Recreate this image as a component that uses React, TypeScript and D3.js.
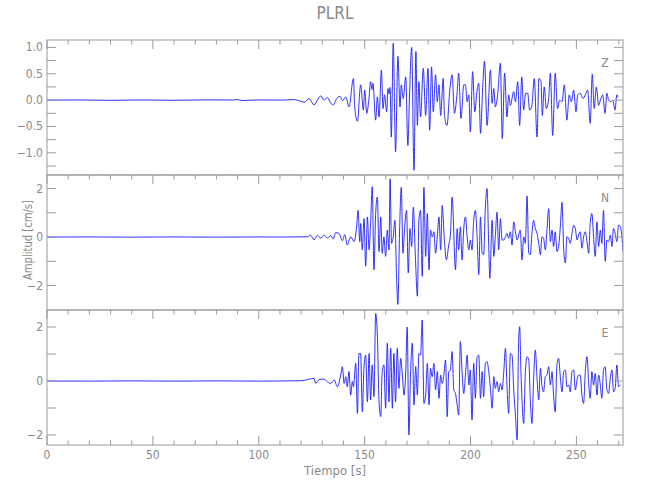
import React from "react";
import * as d3 from "d3";

// ---------- data ----------
const TITLE = "PLRL";
const X_LABEL = "Tiempo [s]";
const Y_LABEL = "Amplitud [cm/s]";
const X_DOMAIN: [number, number] = [0, 272];
const X_MAJOR = [0, 50, 100, 150, 200, 250];
const X_MINOR = [10, 20, 30, 40, 60, 70, 80, 90, 110, 120, 130, 140, 160, 170, 180, 190, 210, 220, 230, 240, 260, 270];

const Z_DOMAIN: [number, number] = [-1.42, 1.14];
const N_DOMAIN: [number, number] = [-3.01, 2.56];
const E_DOMAIN: [number, number] = [-2.37, 2.63];
const Z_TICKS_MAJOR = [1.0, 0.5, 0.0, -0.5, -1.0];
const Z_TICKS_MINOR = [0.75, 0.25, -0.25, -0.75, -1.25];
const NE_TICKS_MAJOR = [2, 0, -2];
const NE_TICKS_MINOR = [1, -1];

// [time (s), amplitude (cm/s)]
const Z_TRACE: [number, number][] = [
  [0, 0], [15, 0.003], [30, -0.004], [45, 0.003], [60, -0.003], [75, 0.004], [88, 0.003], [90, 0.012], [92, -0.008], [100, 0.004], [110.4, 0],
  [116.7, 0.01], [119.8, -0.02], [121.4, -0.04], [123.8, 0.03], [126.1, -0.09], [128.0, 0.02], [129.3, 0.08], [130.8, 0.0], [132.4, 0.05],
  [134.0, -0.06], [135.2, -0.09], [136.8, 0.03], [138.4, 0.07], [139.6, -0.01], [141.1, 0.06], [142.6, -0.13], [144.7, 0.41], [145.3, -0.13],
  [146.6, -0.4], [148.1, 0.29], [149.4, -0.19], [150.0, 0.19], [151.0, -0.25], [152.1, 0.06], [152.8, 0.35], [153.5, 0.2], [153.9, 0.32],
  [155.2, -0.38], [156.0, 0.06], [156.8, -0.32], [157.9, 0.57], [158.7, -0.16], [159.4, 0.1], [160.4, -0.22], [161.0, 0.22], [161.5, 0.12],
  [162.0, 0.24], [162.6, -0.7], [163.5, 1.08], [164.6, -0.98], [165.7, 0.83], [166.7, -0.13], [167.3, 0.29], [168.2, 0.03], [169.4, 0.44],
  [170.4, -0.86], [171.2, 0.1], [172.2, 1.0], [173.3, -1.33], [174.2, 0.92], [174.9, -0.48], [175.6, 0.35], [176.4, -0.32], [177.7, 0.6],
  [178.8, -0.29], [179.9, 0.6], [180.7, -0.57], [181.6, 0.63], [182.4, -0.22], [183.5, 0.48], [184.3, -0.03], [185.1, 0.29], [185.9, -0.29],
  [187.1, 0.41], [187.7, -0.29], [188.9, -0.48], [190.2, 0.19], [191.3, 0.48], [192.4, -0.25], [193.7, 0.16], [194.4, 0.51], [195.5, -0.35],
  [196.8, 0.29], [197.6, 0.29], [198.4, -0.03], [199.2, 0.1], [199.9, -0.6], [201.0, 0.54], [202.0, -0.22], [203.1, 0.19], [203.9, 0.32],
  [204.7, -0.63], [205.8, 0.29], [206.6, 0.74], [207.8, -0.48], [209.4, 0.57], [210.2, -0.06], [211.0, 0.22], [211.7, -0.13], [212.8, 0.1],
  [214.1, 0.7], [215.0, -0.73], [216.1, 0.51], [217.2, -0.32], [218.0, 0.1], [218.8, -0.1], [220.4, 0.16], [221.2, -0.03], [222.3, 0.35],
  [223.2, -0.48], [224.2, 0.44], [225.1, -0.19], [226.0, 0.13], [227.0, 0.13], [227.9, -0.19], [229.0, -0.1], [230.1, 0.41], [231.4, -0.7],
  [232.3, 0.41], [233.3, 0.35], [233.9, -0.29], [234.8, 0.25], [235.8, -0.16], [236.9, 0.03], [237.7, 0.51], [238.8, -0.67], [240.0, 0.51],
  [241.1, -0.16], [242.1, 0.0], [243.2, -0.03], [244.3, 0.29], [245.5, -0.38], [246.6, 0.1], [247.6, -0.03], [248.7, 0.19], [249.8, -0.22],
  [250.6, 0.1], [251.8, 0.13], [253.1, 0.03], [254.2, 0.1], [255.3, 0.19], [256.5, -0.44], [257.5, 0.49], [258.4, -0.16], [259.4, 0.25],
  [260.5, -0.1], [261.3, 0.0], [262.4, 0.1], [263.5, -0.25], [264.4, 0.13], [265.2, 0.0], [266.3, -0.03], [267.2, 0.0], [268.2, -0.19],
  [269.1, 0.1], [269.6, 0.05],
];

const N_TRACE: [number, number][] = [
  [0, 0], [20, 0.004], [40, -0.004], [60, 0.004], [80, -0.004], [100, 0.004], [110.4, 0], [123.0, 0.01],
  [124.5, 0.08], [126.1, -0.12], [127.7, 0.07], [129.3, -0.05], [130.8, 0.08], [132.4, -0.04], [134.0, 0.06], [135.2, -0.08], [136.3, 0.18],
  [137.9, 0.15], [139.5, -0.15], [140.6, 0.1], [141.8, -0.33], [143.4, 0.01], [145.0, -0.19], [146.2, 0.42], [146.9, 1.1], [147.7, -0.19],
  [148.1, 0.56], [148.9, -0.53], [149.7, 0.76], [150.5, -1.2], [151.3, 0.83], [152.1, -0.53], [152.8, 0.56], [153.6, 2.08], [154.4, -1.35],
  [155.2, 0.97], [156.0, 1.65], [156.8, -0.6], [157.6, 0.83], [158.3, -0.67], [159.1, 0.01], [159.9, -0.8], [160.7, 0.29], [161.5, -0.53],
  [162.0, 2.4], [162.7, -0.26], [163.5, 0.01], [164.3, 0.69], [165.1, -1.75], [165.7, -2.78], [166.5, 0.29], [167.3, 2.05], [168.1, -0.67],
  [168.9, 0.42], [169.8, 1.1], [170.6, -1.48], [171.4, 0.35], [172.2, -0.39], [173.0, 1.24], [173.9, -0.67], [174.9, -2.44], [175.6, 0.69],
  [176.4, 1.1], [177.2, -1.62], [178.0, 2.05], [178.8, -0.8], [179.6, 0.97], [180.4, -1.35], [181.1, 0.29], [181.9, 0.01], [182.7, 0.22],
  [183.5, -0.67], [184.3, 0.01], [185.1, 0.83], [185.9, -0.53], [186.6, 1.3], [187.7, -0.19], [188.6, -0.94], [189.7, -0.33], [190.5, 0.08],
  [191.3, 1.65], [192.9, -1.35], [193.7, 0.35], [194.4, -0.53], [195.2, 0.42], [196.0, -0.94], [196.8, 0.35], [197.6, 0.83], [198.4, 0.01],
  [199.2, -0.53], [199.9, -0.12], [200.7, -0.53], [201.5, 0.69], [202.3, 1.1], [203.1, 0.01], [203.9, -1.55], [204.7, 0.83], [205.5, -0.67],
  [206.2, -0.73], [207.0, 1.24], [207.8, 2.0], [208.6, -0.39], [209.1, -1.7], [210.2, 0.69], [211.0, -0.8], [211.7, 0.01], [212.5, 1.03],
  [213.3, -0.53], [214.1, 0.76], [214.9, -0.12], [215.7, -0.12], [216.5, 0.01], [217.2, 0.15], [218.0, -0.05], [218.8, 0.22], [219.6, -0.33],
  [220.4, 0.63], [221.2, 0.22], [222.0, -0.12], [223.5, 0.29], [224.3, -0.94], [225.1, 0.01], [225.9, -0.26], [226.7, 1.7], [227.5, -0.67],
  [228.2, -0.73], [229.0, 0.15], [229.8, 0.69], [230.6, 0.35], [231.4, 0.15], [232.2, -0.26], [233.0, -0.73], [233.7, 0.01], [234.5, -0.05],
  [235.3, -0.53], [236.1, 0.29], [236.9, 1.17], [237.7, -0.19], [238.5, 0.29], [239.2, -0.39], [240.0, 0.22], [240.8, -0.6], [241.6, -0.39],
  [242.4, 0.42], [243.2, 1.44], [244.0, -0.53], [244.8, -1.07], [245.5, 0.01], [246.3, -0.05], [247.1, -0.26], [247.9, 0.15], [248.7, 0.49],
  [249.5, 0.35], [250.3, -0.12], [251.0, 0.08], [251.8, 0.22], [252.6, -0.46], [253.4, 0.01], [254.2, 0.22], [255.0, -0.19], [255.8, -0.67],
  [256.5, 0.56], [257.3, 0.97], [258.1, 0.01], [258.9, -0.8], [259.7, 0.63], [260.5, -0.39], [261.3, 0.29], [262.0, -0.26], [262.8, 1.1],
  [263.6, -1.0], [264.4, -0.12], [265.2, -0.19], [266.0, 0.08], [266.8, -0.39], [267.5, 0.35], [268.3, 0.15], [269.1, -0.19], [269.9, 0.49],
  [270.7, 0.42], [271.5, 0.01], [272.0, -0.6],
];

const E_TRACE: [number, number][] = [
  [0, 0], [20, -0.004], [40, 0.004], [60, -0.004], [80, 0.004], [100, -0.004], [110.4, 0], [119.8, 0.01],
  [123.0, 0.05], [126.1, 0.1], [126.9, -0.09], [128.5, 0.05], [130.8, 0.07], [132.4, -0.03], [134.0, -0.09], [135.6, 0.04], [137.1, -0.21],
  [138.7, 0.22], [139.5, 0.53], [140.3, -0.09], [141.1, 0.16], [141.8, -0.21], [142.6, 0.35], [143.4, -0.52], [144.2, -0.02], [144.7, -0.21],
  [145.8, 0.65], [146.6, -1.2], [147.3, 1.02], [148.1, 1.02], [148.9, -1.14], [149.7, 0.53], [150.5, 0.96], [151.3, -0.77], [152.1, 1.02],
  [152.8, -0.7], [153.6, 0.6], [154.4, -0.58], [155.2, 2.5], [156.0, 1.7], [156.8, -0.77], [157.6, -1.32], [158.3, 0.35], [159.1, 0.6],
  [159.9, -1.01], [160.7, 1.4], [161.5, -0.77], [162.3, 1.21], [163.1, -1.01], [163.8, 1.02], [164.6, -0.77], [165.4, 1.21], [166.2, -0.27],
  [167.0, 0.84], [167.8, 0.22], [168.6, -0.52], [169.4, 0.35], [170.1, 2.0], [170.9, -2.0], [171.7, 0.35], [172.5, 1.4], [173.3, -0.89],
  [174.1, 0.53], [174.9, -0.52], [175.6, 1.02], [176.4, 0.96], [177.2, 2.26], [178.0, -0.83], [178.8, -0.52], [179.6, 0.65], [180.4, -0.89],
  [181.1, 0.47], [181.9, 0.16], [182.7, 0.65], [183.5, -0.33], [184.3, 0.35], [185.1, -0.64], [185.9, 0.22], [186.6, -0.09], [187.4, 0.22],
  [188.2, 0.78], [189.0, -1.32], [189.7, 0.35], [190.5, 0.41], [191.3, 1.09], [192.1, -0.33], [192.9, -0.46], [193.7, -0.89], [194.4, -1.26],
  [195.2, 1.46], [196.0, 0.35], [196.8, -0.46], [197.6, 0.22], [198.4, 0.96], [199.2, -0.15], [199.9, 0.41], [200.7, -1.44], [201.5, 0.65],
  [202.3, -0.64], [203.1, 0.9], [203.9, 0.96], [204.7, -0.64], [205.5, 0.35], [206.2, -0.58], [207.0, 0.65], [207.8, 0.72], [208.6, 0.35],
  [209.4, -0.27], [210.2, -1.01], [211.0, 0.16], [211.7, -0.27], [212.5, -0.02], [213.3, -0.4], [214.1, -0.09], [214.9, -0.33], [215.7, 0.35],
  [216.5, 1.21], [217.2, -0.15], [218.0, -1.2], [218.8, 1.02], [219.6, 0.96], [220.4, -0.33], [221.2, -1.26], [222.0, -2.18], [222.7, 1.46],
  [223.2, 2.01], [223.8, 0.35], [224.3, -0.7], [225.1, -1.57], [225.9, 0.35], [226.7, 0.9], [227.5, 0.78], [228.2, -0.64], [229.0, -1.57],
  [229.8, 0.1], [230.6, 1.15], [231.4, 0.1], [232.2, -0.7], [233.0, 0.47], [233.7, -0.15], [234.5, -0.4], [235.3, 0.16], [236.1, 0.22],
  [236.9, 0.53], [237.7, -0.15], [238.5, 0.35], [239.2, -0.52], [240.0, -1.14], [240.8, 0.59], [241.6, 0.84], [242.4, 0.16], [243.2, -0.4],
  [244.0, 0.35], [244.8, 0.41], [245.5, -0.21], [246.3, -0.15], [247.1, -0.4], [247.9, 0.35], [248.7, 0.41], [249.5, -0.33], [250.3, 0.04],
  [251.0, 0.22], [251.8, 0.22], [252.6, -0.52], [253.4, -0.83], [254.2, 0.35], [255.0, 0.9], [255.8, -0.09], [256.5, -0.64], [257.3, 0.35],
  [258.1, -0.15], [258.9, 0.28], [259.7, -0.52], [260.5, 0.22], [261.3, -0.15], [262.0, -0.64], [262.8, 0.41], [263.6, 0.53], [264.4, -0.33],
  [265.2, -0.46], [266.0, 0.1], [266.8, 0.41], [267.5, -0.4], [268.3, -0.27], [269.1, 0.59], [269.9, -0.21], [270.7, -0.15],
];

// ---------- layout ----------
const W = 650;
const H = 500;
const LEFT = 47;
const RIGHT = 623;
const PANEL_TOPS = [40, 175, 310];
const PANEL_H = 135;
const AXIS_COLOR = "#9a9a9a";
const TEXT_COLOR = "#8a8a8a";
const LINE_COLOR = "#1a1aff";
const FONT = "'DejaVu Sans Condensed', 'Liberation Sans Narrow', 'DejaVu Sans', sans-serif";

type Panel = {
  name: string;
  data: [number, number][];
  domain: [number, number];
  major: number[];
  minor: number[];
  fmt: (v: number) => string;
};

const fmtZ = (v: number) => (v < 0 ? "\u2212" : "") + Math.abs(v).toFixed(1);
const fmtI = (v: number) => (v < 0 ? "\u2212" : "") + Math.abs(v).toFixed(0);

const PANELS: Panel[] = [
  { name: "Z", data: Z_TRACE, domain: Z_DOMAIN, major: Z_TICKS_MAJOR, minor: Z_TICKS_MINOR, fmt: fmtZ },
  { name: "N", data: N_TRACE, domain: N_DOMAIN, major: NE_TICKS_MAJOR, minor: NE_TICKS_MINOR, fmt: fmtI },
  { name: "E", data: E_TRACE, domain: E_DOMAIN, major: NE_TICKS_MAJOR, minor: NE_TICKS_MINOR, fmt: fmtI },
];

export default function App() {
  const x = d3.scaleLinear().domain(X_DOMAIN).range([LEFT, RIGHT]);
  const YT = 9;
  const XT_MAJ = 9;
  const XT_MIN = 4.5;

  return (
    <svg width={W} height={H} style={{ display: "block", position: "absolute", left: 0, top: 0, background: "#fff" }} fontFamily={FONT}>
      <rect x={0} y={0} width={W} height={H} fill="#fff" />
      <text x={(LEFT + RIGHT) / 2} y={19} textAnchor="middle" fontSize={17} fill={TEXT_COLOR} fontWeight={200}>
        {TITLE}
      </text>
      {PANELS.map((p, i) => {
        const top = PANEL_TOPS[i];
        const bottom = top + PANEL_H;
        const y = d3.scaleLinear().domain(p.domain).range([bottom, top]);
        const line = d3
          .line<[number, number]>()
          .x((d) => x(d[0]))
          .y((d) => y(d[1]))
          .curve(d3.curveMonotoneX);
        const isLast = i === PANELS.length - 1;
        return (
          <g key={p.name}>
            <defs>
              <clipPath id={`clip-${p.name}`}>
                <rect x={LEFT} y={top} width={RIGHT - LEFT} height={PANEL_H} />
              </clipPath>
            </defs>
            <path d={line(p.data) || ""} fill="none" stroke={LINE_COLOR} strokeWidth={0.9} clipPath={`url(#clip-${p.name})`} />
            <rect x={LEFT} y={top} width={RIGHT - LEFT} height={PANEL_H} fill="none" stroke={AXIS_COLOR} strokeWidth={1} />
            {X_MAJOR.map((t) => (
              <line key={`tM${t}`} x1={x(t)} x2={x(t)} y1={top} y2={top + XT_MAJ} stroke={AXIS_COLOR} />
            ))}
            {X_MINOR.map((t) => (
              <line key={`tm${t}`} x1={x(t)} x2={x(t)} y1={top} y2={top + XT_MIN} stroke={AXIS_COLOR} />
            ))}
            {isLast &&
              X_MAJOR.map((t) => (
                <line key={`bM${t}`} x1={x(t)} x2={x(t)} y1={bottom} y2={bottom - XT_MAJ} stroke={AXIS_COLOR} />
              ))}
            {isLast &&
              X_MINOR.map((t) => (
                <line key={`bm${t}`} x1={x(t)} x2={x(t)} y1={bottom} y2={bottom - XT_MIN} stroke={AXIS_COLOR} />
              ))}
            {[...p.major, ...p.minor].map((v) => (
              <g key={`y${v}`}>
                <line x1={LEFT} x2={LEFT + YT} y1={y(v)} y2={y(v)} stroke={AXIS_COLOR} />
                <line x1={RIGHT} x2={RIGHT - YT} y1={y(v)} y2={y(v)} stroke={AXIS_COLOR} />
              </g>
            ))}
            {p.major.map((v) => (
              <text key={`yl${v}`} x={LEFT - 4} y={y(v) + 4} textAnchor="end" fontSize={12} fill={TEXT_COLOR} fontWeight={200}>
                {p.fmt(v)}
              </text>
            ))}
            <text x={605} y={top + 27} textAnchor="middle" fontSize={12} fill={TEXT_COLOR} fontWeight={200}>
              {p.name}
            </text>
          </g>
        );
      })}
      {X_MAJOR.map((t) => (
        <text key={`xl${t}`} x={x(t)} y={459} textAnchor="middle" fontSize={12} fill={TEXT_COLOR} fontWeight={200}>
          {t}
        </text>
      ))}
      <text x={(LEFT + RIGHT) / 2} y={475} textAnchor="middle" fontSize={13} fill={TEXT_COLOR} fontWeight={200}>
        {X_LABEL}
      </text>
      <text
        transform={`translate(32, ${240}) rotate(-90)`}
        textAnchor="middle"
        fontSize={12}
        textLength={80}
        lengthAdjust="spacingAndGlyphs"
        fill={TEXT_COLOR}
        fontWeight={200}
      >
        {Y_LABEL}
      </text>
    </svg>
  );
}
